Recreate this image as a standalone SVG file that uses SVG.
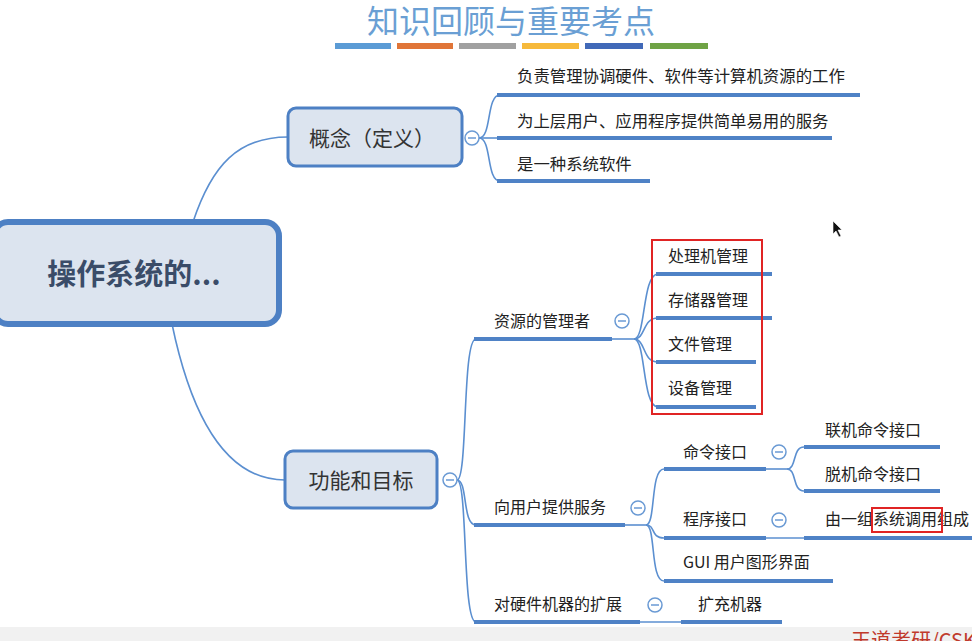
<svg xmlns="http://www.w3.org/2000/svg" width="972" height="641" viewBox="0 0 972 641">
<style>
.t{font-family:"Noto Sans CJK SC","Liberation Sans",sans-serif;fill:#222;font-size:16px}
.t2{font-size:16.4px}
.c{fill:none;stroke:#5b8fd0;stroke-width:1.6}
.u{stroke:#4f82c6;stroke-width:4}
.mc{fill:#fff;stroke:#6a9ad4;stroke-width:1.5}
.mm{stroke:#6a9ad4;stroke-width:1.5}
.nb{fill:#dce4ef;stroke:#4d80c4}
.nt{font-family:"Noto Sans CJK SC","Liberation Sans",sans-serif;fill:#333;text-anchor:middle}
.rb{fill:none;stroke:#e02424;stroke-width:2}
</style>
<rect width="972" height="641" fill="#fff"/>
<rect x="0" y="627" width="972" height="14" fill="#f1f1f1"/>
<g id="title">
<text x="511" y="33" text-anchor="middle" font-family="Noto Sans CJK SC,sans-serif" font-size="32" fill="#6a9fd4">知识回顾与重要考点</text>
<rect x="335" y="43" width="56" height="6" fill="#5b9bd5"/>
<rect x="397" y="43" width="56" height="6" fill="#e07538"/>
<rect x="459" y="43" width="57" height="6" fill="#a0a0a0"/>
<rect x="522" y="43" width="57" height="6" fill="#f6b93b"/>
<rect x="585" y="43" width="58" height="6" fill="#4169b8"/>
<rect x="650" y="43" width="58" height="6" fill="#6fa345"/>
</g>
<g id="connectors">
<path class="c" d="M193,222 C212,165 238,137 288,137"/>
<path class="c" d="M172,324 C192,420 228,480 285,480"/>
<path class="c" d="M479,138 C492,138 486,95 500,95"/>
<path class="c" d="M479,138 L500,138"/>
<path class="c" d="M479,138 C492,138 486,181 500,181"/>
<path class="c" d="M457,480 C468,480 462,339 476,339"/>
<path class="c" d="M457,480 C468,480 462,525 476,525"/>
<path class="c" d="M457,480 C468,480 462,622 476,622"/>
<path class="c" d="M612,339 L634,339"/>
<path class="c" d="M634,339 C646,339 642,274 658,274"/>
<path class="c" d="M634,339 C646,339 642,318 658,318"/>
<path class="c" d="M634,339 C646,339 642,362 658,362"/>
<path class="c" d="M634,339 C646,339 642,407 658,407"/>
<path class="c" d="M625,525 L646,525"/>
<path class="c" d="M646,525 C656,525 650,469 664,469"/>
<path class="c" d="M646,525 C656,525 650,538 664,538"/>
<path class="c" d="M646,525 C656,525 650,581 664,581"/>
<path class="c" d="M766,469 L787,469"/>
<path class="c" d="M787,469 C797,469 792,447 804,447"/>
<path class="c" d="M787,469 C797,469 792,491 804,491"/>
<path class="c" d="M766,538 L804,538"/>
<path class="c" d="M640,622 L681,622"/>
</g>
<g id="root">
<rect class="nb" x="-6" y="222" width="285" height="102" rx="14" stroke-width="6"/>
<text class="nt" x="134" y="285" font-size="29" font-weight="bold" style="fill:#3a4c68">操作系统的...</text>
</g>
<g id="concept">
<rect class="nb" x="288" y="108" width="174" height="58" rx="8" stroke-width="3"/>
<text class="nt" x="372" y="146" font-size="21">概念（定义）</text>
<circle class="mc" cx="472" cy="138" r="7"/><line class="mm" x1="468" y1="138" x2="476" y2="138"/>
</g>
<g id="c1"><line class="u" x1="497" y1="95" x2="860" y2="95"/><text class="t t2" x="517" y="82">负责管理协调硬件、软件等计算机资源的工作</text></g>
<g id="c2"><line class="u" x1="497" y1="138" x2="832" y2="138"/><text class="t t2" x="517" y="127">为上层用户、应用程序提供简单易用的服务</text></g>
<g id="c3"><line class="u" x1="497" y1="181" x2="650" y2="181"/><text class="t t2" x="517" y="170">是一种系统软件</text></g>
<g id="func">
<rect class="nb" x="285" y="451" width="152" height="57" rx="8" stroke-width="3"/>
<text class="nt" x="361" y="488" font-size="21">功能和目标</text>
<circle class="mc" cx="450" cy="480" r="7"/><line class="mm" x1="446" y1="480" x2="454" y2="480"/>
</g>
<g id="res">
<line class="u" x1="474" y1="339" x2="612" y2="339"/><text class="t" x="494" y="327">资源的管理者</text>
<circle class="mc" cx="622" cy="321" r="7"/><line class="mm" x1="618" y1="321" x2="626" y2="321"/>
</g>
<g id="r1"><line class="u" x1="656" y1="274" x2="772" y2="274"/><text class="t" x="668" y="262">处理机管理</text></g>
<g id="r2"><line class="u" x1="656" y1="318" x2="772" y2="318"/><text class="t" x="668" y="306">存储器管理</text></g>
<g id="r3"><line class="u" x1="656" y1="362" x2="756" y2="362"/><text class="t" x="668" y="350">文件管理</text></g>
<g id="r4"><line class="u" x1="656" y1="407" x2="756" y2="407"/><text class="t" x="668" y="394">设备管理</text></g>
<rect class="rb" x="652" y="240" width="110" height="174"/>
<g id="svc">
<line class="u" x1="474" y1="525" x2="625" y2="525"/><text class="t" x="494" y="513">向用户提供服务</text>
<circle class="mc" cx="638" cy="508" r="7"/><line class="mm" x1="634" y1="508" x2="642" y2="508"/>
</g>
<g id="cmd">
<line class="u" x1="664" y1="469" x2="766" y2="469"/><text class="t" x="683" y="458">命令接口</text>
<circle class="mc" cx="779" cy="452" r="7"/><line class="mm" x1="775" y1="452" x2="783" y2="452"/>
</g>
<g id="cmd1"><line class="u" x1="804" y1="447" x2="940" y2="447"/><text class="t" x="825" y="436">联机命令接口</text></g>
<g id="cmd2"><line class="u" x1="804" y1="491" x2="940" y2="491"/><text class="t" x="825" y="480">脱机命令接口</text></g>
<g id="prog">
<line class="u" x1="664" y1="538" x2="766" y2="538"/><text class="t" x="683" y="525">程序接口</text>
<circle class="mc" cx="779" cy="520" r="7"/><line class="mm" x1="775" y1="520" x2="783" y2="520"/>
</g>
<g id="prog1"><line class="u" x1="804" y1="538" x2="972" y2="538"/><text class="t" x="825" y="525">由一组系统调用组成</text>
<rect class="rb" x="872" y="508" width="70" height="24"/></g>
<g id="gui"><line class="u" x1="664" y1="581" x2="833" y2="581"/><text class="t" x="683" y="568">GUI 用户图形界面</text></g>
<g id="ext">
<line class="u" x1="474" y1="622" x2="640" y2="622"/><text class="t" x="494" y="610">对硬件机器的扩展</text>
<circle class="mc" cx="655" cy="605" r="7"/><line class="mm" x1="651" y1="605" x2="659" y2="605"/>
</g>
<g id="ext1"><line class="u" x1="681" y1="622" x2="782" y2="622"/><text class="t" x="698" y="610">扩充机器</text></g>
<text x="851" y="648" font-family="Noto Sans CJK SC,sans-serif" font-size="20" fill="#c0392b">王道考研/CSK</text>
<path d="M833,221 L833,234 L836,231 L839,237 L841,236 L838,230 L842,230 Z" fill="#111" stroke="#fff" stroke-width="0.6"/>
</svg>
